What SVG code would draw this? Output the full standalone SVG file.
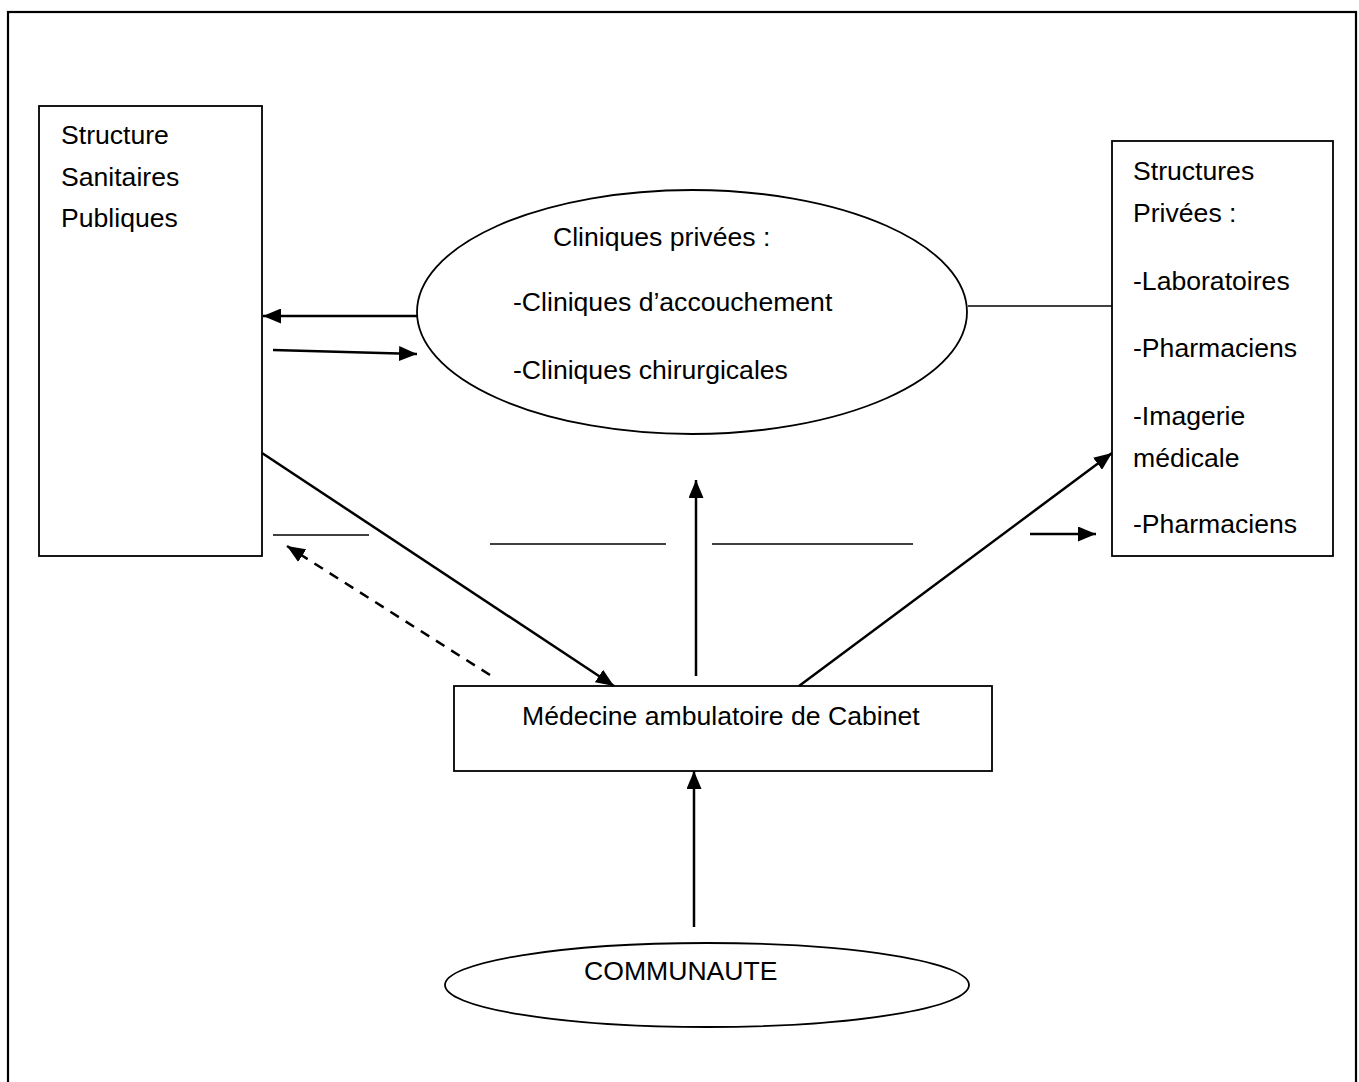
<svg xmlns="http://www.w3.org/2000/svg" width="1359" height="1082" viewBox="0 0 1359 1082">
<style>
.n{fill:#fff;stroke:#000;stroke-width:1.8}
.t{font-family:"Liberation Sans",Arial,sans-serif;font-size:26.6px;fill:#000}
.c{stroke:#000;stroke-width:2.5;fill:none}
.l{stroke:#000;stroke-width:1.7;fill:none}
</style>
<defs>
<marker id="ah" viewBox="0 0 18 15" refX="18" refY="7.5" markerWidth="18" markerHeight="15" markerUnits="userSpaceOnUse" orient="auto">
<path d="M0,0 L18,7.5 L0,15 Z" fill="#000"/>
</marker>
</defs>
<rect x="0" y="0" width="1359" height="1082" fill="#fff"/>
<rect id="border" x="8" y="12" width="1348" height="1080" fill="none" stroke="#000" stroke-width="2.2"/>
<g id="publiques">
<rect class="n" x="39" y="106" width="223" height="450"/>
<text class="t" x="61" y="144">Structure</text>
<text class="t" x="61" y="186">Sanitaires</text>
<text class="t" x="61" y="227">Publiques</text>
</g>
<g id="cliniques">
<ellipse class="n" cx="692" cy="312" rx="275" ry="122"/>
<text class="t" x="553" y="246">Cliniques privées :</text>
<text class="t" x="513" y="311">-Cliniques d’accouchement</text>
<text class="t" x="513" y="379">-Cliniques chirurgicales</text>
</g>
<g id="privees">
<rect class="n" x="1112" y="141" width="221" height="415"/>
<text class="t" x="1133" y="180">Structures</text>
<text class="t" x="1133" y="222">Privées :</text>
<text class="t" x="1133" y="290">-Laboratoires</text>
<text class="t" x="1133" y="357">-Pharmaciens</text>
<text class="t" x="1133" y="425">-Imagerie</text>
<text class="t" x="1133" y="467">médicale</text>
<text class="t" x="1133" y="533">-Pharmaciens</text>
</g>
<g id="medecine">
<rect class="n" x="454" y="686" width="538" height="85"/>
<text class="t" x="522" y="725">Médecine ambulatoire de Cabinet</text>
</g>
<g id="communaute">
<ellipse class="n" cx="707" cy="985" rx="262" ry="42"/>
<text class="t" x="584" y="980">COMMUNAUTE</text>
</g>
<g id="connectors">
<line class="c" x1="417" y1="316" x2="263" y2="316" marker-end="url(#ah)"/>
<line class="c" x1="273" y1="350" x2="417" y2="354" marker-end="url(#ah)"/>
<line class="l" x1="968" y1="306" x2="1112" y2="306"/>
<line class="c" x1="262" y1="453" x2="614" y2="686" marker-end="url(#ah)"/>
<line class="c" x1="490" y1="675" x2="287" y2="546" stroke-dasharray="10,8" marker-end="url(#ah)"/>
<line class="l" x1="273" y1="535" x2="369" y2="535"/>
<line class="l" x1="490" y1="544" x2="666" y2="544"/>
<line class="l" x1="712" y1="544" x2="913" y2="544"/>
<line class="c" x1="696" y1="676" x2="696" y2="480" marker-end="url(#ah)"/>
<line class="c" x1="799" y1="686" x2="1112" y2="453" marker-end="url(#ah)"/>
<line class="c" x1="1030" y1="534" x2="1096" y2="534" marker-end="url(#ah)"/>
<line class="c" x1="694" y1="927" x2="694" y2="771" marker-end="url(#ah)"/>
</g>
</svg>
